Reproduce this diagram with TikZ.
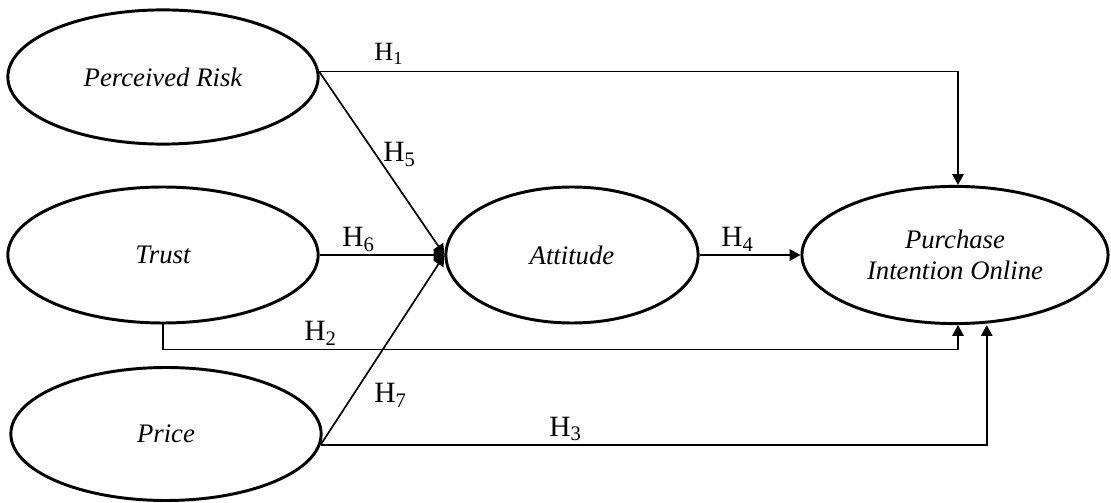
\documentclass[tikz,border=0pt]{standalone}
\usepackage{fontspec}
\setmainfont{Liberation Serif}
\usetikzlibrary{arrows.meta}
\usetikzlibrary{positioning}
\usetikzlibrary{shapes.geometric}
\tikzset{
	latent/.style={ellipse, draw, line width=1.4pt, inner sep=0pt, align=center,
		font=\fontsize{12.7}{15}\selectfont\itshape},
	hyp/.style={line width=0.8pt, -{Triangle[length=1.8mm, width=1.9mm]}},
	hlab/.style={inner sep=0pt, anchor=base west, font=\fontsize{14}{16}\selectfont}
}

\begin{document}
\begin{tikzpicture}[x=0.0167cm, y=-0.0167cm]
		\useasboundingbox (0,0) rectangle (1111,503);
		\node[latent, minimum width=5.18cm, minimum height=2.24cm] (risk) at (163,77) {Perceived Risk};
		\node[latent, minimum width=5.18cm, minimum height=2.27cm] (trust) at (163,255) {Trust};
		\node[latent, minimum width=5.18cm, minimum height=2.22cm] (price) at (166,434) {Price};
		\node[latent, minimum width=4.21cm, minimum height=2.27cm] (att) at (572,255) {Attitude};
		\node[latent, minimum width=5.11cm, minimum height=2.29cm] (pio) at (955,255) {Purchase\\ Intention Online};
		\coordinate (riskout) at (risk.2);
		\coordinate (priceout) at (price.-4);
		\draw[hyp] (riskout) -| ([xshift=0.05cm]pio.north);
		\draw[hyp] (riskout) -- (att.west);
		\draw[hyp] (trust) -- (att);
		\draw[hyp] (priceout) -- (att.west);
		\draw[hyp] (att) -- (pio);
		\draw[hyp] (trust.south) -- ++(0,25) -| ([xshift=0.05cm]pio.south);
		\draw[hyp] (priceout) -| ([xshift=0.53cm]pio.south);
		\node[hlab, font=\fontsize{12.5}{14}\selectfont] (l1) at (374,61) {H\textsubscript{1}};
		\node[hlab] (l5) at (383,162) {H\textsubscript{5}};
		\node[hlab] (l6) at (342,247) {H\textsubscript{6}};
		\node[hlab] (l4) at (721,247) {H\textsubscript{4}};
		\node[hlab] (l2) at (304,341) {H\textsubscript{2}};
		\node[hlab] (l7) at (374,403) {H\textsubscript{7}};
		\node[hlab] (l3) at (549,436) {H\textsubscript{3}};
	\end{tikzpicture}
\end{document}
